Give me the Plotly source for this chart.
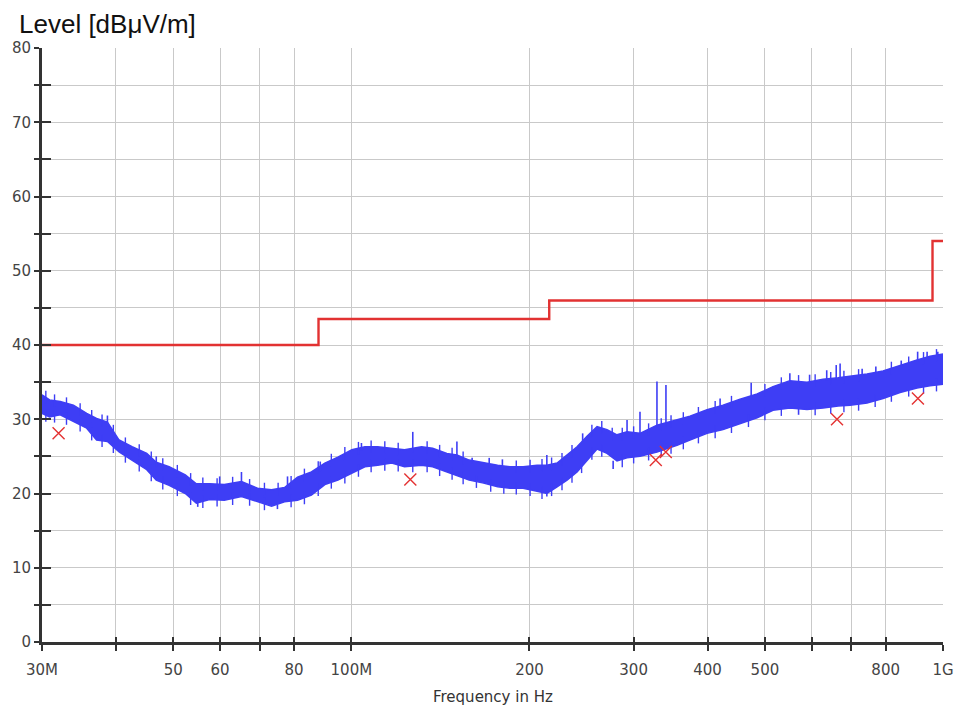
import math
import plotly.graph_objects as go

# ---------------- data ----------------
# measured spectrum, envelope of the noisy peak trace (MHz, dBµV/m)
band_mhz = [30.0, 30.9, 32.2, 33.9, 35.7, 37.1, 38.7, 40.5, 42.6, 45.1,
            46.8, 49.2, 52.4, 54.7, 57.6, 61.0, 65.2, 69.4, 73.3, 77.1,
            81.1, 85.6, 90.2, 94.9, 100.2, 105.4, 110.8, 117.0, 123.0, 131.4,
            137.2, 145.0, 150.8, 158.2, 167.3, 176.7, 185.4, 195.1, 206, 214,
            222.7, 231.5, 240.7, 250.2, 260.2, 270.5, 281.2, 292.4, 307.5, 328.5,
            340.2, 355.2, 373.5, 399.3, 424.8, 453.9, 485.1, 516, 551, 589,
            627, 665, 696.6, 744, 792, 846, 904, 951, 1000]
band_hi = [33.3, 32.6, 32.4, 31.9, 30.8, 30.1, 29.6, 27.2, 26.3, 25.4,
           24.2, 23.6, 22.5, 21.3, 21.3, 21.2, 21.6, 20.7, 20.5, 20.8,
           22.2, 22.9, 24.1, 24.9, 25.9, 26.3, 26.3, 26.1, 25.9, 26.3,
           26.1, 25.4, 25.2, 24.5, 24.1, 23.8, 23.6, 23.6, 23.8, 23.8,
           24.1, 25.2, 26.3, 27.7, 29.0, 28.6, 27.9, 28.3, 28.1, 29.2,
           29.5, 29.9, 30.4, 31.3, 31.9, 32.7, 33.4, 34.4, 35.2, 35.0,
           35.4, 35.6, 35.8, 36.1, 36.5, 37.3, 38.0, 38.5, 38.8]
band_lo = [30.8, 30.3, 30.6, 29.7, 28.8, 27.2, 27.0, 25.6, 24.5, 23.2,
           21.8, 21.1, 20.0, 18.7, 19.2, 19.1, 19.6, 18.9, 18.3, 18.9,
           19.1, 19.8, 21.2, 21.8, 22.7, 23.6, 23.8, 24.1, 23.6, 23.8,
           23.6, 22.9, 22.5, 21.8, 21.4, 20.9, 20.7, 20.7, 20.3, 20.0,
           20.9, 21.8, 22.9, 24.5, 26.0, 25.4, 24.4, 24.8, 25.0, 25.6,
           26.0, 26.5, 27.2, 28.1, 28.6, 29.4, 30.2, 31.2, 31.5, 31.3,
           31.5, 31.8, 31.9, 32.2, 32.8, 33.6, 34.2, 34.5, 34.7]

# narrow spikes above / dips below the band (MHz, from dB, to dB)
spike_mhz = [38.7, 46.8, 59.9, 65.2, 78.0, 88.6, 97.0, 104.0, 127.0, 150.8,
             160.0, 171.0, 180.0, 214.0, 246.0, 292.4, 307.5, 328.5, 340.2, 420,
             474, 551, 595, 636, 660, 670, 730, 770, 850, 906, 940, 980]
spike_from = [29.0, 23.5, 20.8, 21.0, 20.5, 23.0, 24.5, 25.8, 25.5, 24.8,
              24.0, 23.5, 23.2, 23.5, 27.0, 28.0, 27.8, 29.0, 29.0, 31.5,
              33.0, 35.0, 34.8, 35.2, 35.4, 35.4, 35.9, 36.2, 37.2, 37.8, 38.2, 38.5]
spike_to = [30.5, 25.0, 22.3, 22.9, 22.3, 24.3, 25.2, 26.8, 28.3, 27.0,
            24.8, 24.8, 24.6, 25.2, 28.1, 29.9, 31.0, 35.1, 34.6, 32.8,
            34.9, 36.2, 36.0, 36.6, 37.3, 37.5, 36.8, 37.1, 37.9, 39.1, 39.1, 39.1]
dip_mhz = [55.0, 75.0, 214.0, 277.0, 570.0]
dip_from = [19.0, 18.5, 20.3, 24.4, 31.6]
dip_to = [18.2, 17.9, 19.6, 23.3, 30.6]

# small noise hairs on the upper and lower edge of the band (MHz, dB at hair centre)
hair_up_mhz = [30.45, 31.5, 33.0, 34.8, 36.4, 37.9, 39.6, 41.5, 43.8, 45.9,
               48.0, 50.8, 53.5, 56.1, 59.3, 63.0, 67.3, 71.3, 75.2, 79.1,
               83.3, 87.9, 92.5, 97.5, 102.8, 108, 113.9, 120, 134.3, 141,
               148, 154.5, 190, 200.5, 210, 218, 227, 236, 255, 265,
               276, 287, 300, 318, 334, 347, 364, 386, 412, 439,
               500, 533, 570, 608, 646, 680, 720, 818, 875, 927, 975]
hair_up_db = [33.0, 32.5, 32.1, 31.3, 30.4, 29.8, 28.4, 26.7, 25.8, 24.8,
              23.9, 23.0, 21.9, 21.3, 21.2, 21.4, 21.1, 20.6, 20.6, 21.5,
              22.5, 23.5, 24.5, 25.4, 26.1, 26.3, 26.2, 26.0, 26.2, 25.7,
              25.3, 24.8, 23.6, 23.7, 23.8, 24.0, 24.6, 25.7, 28.4, 28.9,
              28.0, 28.0, 28.2, 28.6, 29.3, 29.7, 30.1, 30.8, 31.6, 32.3,
              33.9, 34.8, 35.1, 35.2, 35.5, 35.7, 35.9, 36.9, 37.6, 38.2, 38.6]
hair_dn_mhz = [30.45, 31.5, 33.0, 34.8, 36.4, 37.9, 39.6, 41.5, 43.8, 45.9,
               48.0, 50.8, 53.5, 56.1, 59.3, 63.0, 67.3, 71.3, 79.1, 83.3,
               87.9, 92.5, 97.5, 102.8, 108, 113.9, 120, 127, 134.3, 141,
               148, 154.5, 162.7, 172, 181, 190, 200.5, 210, 218, 227,
               236, 245, 255, 265, 287, 300, 318, 334, 347, 364,
               386, 412, 439, 469, 500, 533, 608, 646, 680, 720,
               768, 818, 875, 927, 975]
hair_dn_db = [30.5, 30.4, 30.1, 29.2, 28.0, 27.1, 26.3, 25.0, 23.8, 22.5,
              21.4, 20.5, 19.3, 18.9, 19.1, 19.3, 19.2, 18.6, 19.0, 19.4,
              20.5, 21.5, 22.2, 23.1, 23.7, 23.9, 23.8, 23.7, 23.7, 23.2,
              22.7, 22.1, 21.6, 21.1, 20.8, 20.7, 20.5, 20.1, 20.5, 21.3,
              22.3, 23.6, 25.4, 25.8, 24.4, 24.9, 25.3, 25.8, 26.2, 26.8,
              27.6, 28.3, 29.0, 29.8, 30.7, 31.3, 31.4, 31.6, 31.8, 32.0,
              32.5, 33.2, 33.9, 34.3, 34.6]

# limit line (FCC class B style steps)
limit_mhz = [30, 88, 216, 960, 1000]
limit_db = [40, 43.5, 46, 54, 54]

# final measurement points
meas_mhz = [32.0, 125.8, 327, 340, 662, 907]
meas_db = [28.1, 21.9, 24.5, 25.6, 30.0, 32.8]

# axis ticks
x_tick_mhz = [30, 40, 50, 60, 70, 80, 100, 200, 300, 400, 500, 600, 700, 800, 1000]
x_tick_text = ["30M", "", "50", "60", "", "80", "100M", "200", "300", "400", "500", "", "", "800", "1G"]
y_tick_vals = [0, 5, 10, 15, 20, 25, 30, 35, 40, 45, 50, 55, 60, 65, 70, 75, 80]
y_tick_text = ["0", "", "10", "", "20", "", "30", "", "40", "", "50", "", "60", "", "70", "", "80"]

# ---------------- styling ----------------
BLUE = "rgb(62,62,245)"
RED = "rgb(226,50,50)"
MARK = "rgb(228,50,50)"
GRID = "#c9c9c9"
AXIS = "#333333"
TICKFONT = dict(family="DejaVu Sans", size=15, color="#444444")

hz = lambda arr: [v * 1e6 for v in arr]

fig = go.Figure()

fig.add_trace(go.Scatter(x=hz(band_mhz), y=band_lo, mode="lines",
                         line=dict(color=BLUE, width=1.5), hoverinfo="skip", showlegend=False))
fig.add_trace(go.Scatter(x=hz(band_mhz), y=band_hi, mode="lines", fill="tonexty",
                         fillcolor=BLUE, line=dict(color=BLUE, width=1.5),
                         hoverinfo="skip", showlegend=False))

fig.add_trace(go.Scatter(x=hz(hair_up_mhz + hair_dn_mhz), y=hair_up_db + hair_dn_db,
                         mode="markers",
                         marker=dict(symbol="line-ns-open", size=9, color=BLUE,
                                     line=dict(color=BLUE, width=1.4)),
                         hoverinfo="skip", showlegend=False))

sx, sy = [], []
for f, a, b in zip(spike_mhz + dip_mhz, spike_from + dip_from, spike_to + dip_to):
    sx += [f * 1e6, f * 1e6, None]
    sy += [a, b, None]
fig.add_trace(go.Scatter(x=sx, y=sy, mode="lines", line=dict(color=BLUE, width=1.6),
                         hoverinfo="skip", showlegend=False))

fig.add_trace(go.Scatter(x=hz(limit_mhz), y=limit_db, mode="lines", line_shape="hv",
                         line=dict(color=RED, width=2.4), showlegend=False))

fig.add_trace(go.Scatter(x=hz(meas_mhz), y=meas_db, mode="markers",
                         marker=dict(symbol="x-thin-open", size=12, color=MARK,
                                     line=dict(color=MARK, width=1.4)),
                         showlegend=False))

# invisible trace so the overlay axes (inner half of the tick crosses) are drawn
fig.add_trace(go.Scatter(x=[30e6], y=[0], xaxis="x2", yaxis="y2", mode="markers",
                         marker=dict(opacity=0), hoverinfo="skip", showlegend=False))

xrange = [math.log10(30e6), math.log10(1e9)]

fig.update_layout(
    width=957, height=710,
    autosize=False,
    margin=dict(l=42, r=14, t=48, b=68, pad=0, autoexpand=False),
    paper_bgcolor="white", plot_bgcolor="white",
    showlegend=False,
    xaxis=dict(type="log", range=xrange, tickvals=hz(x_tick_mhz), ticktext=x_tick_text,
               showgrid=True, gridcolor=GRID, gridwidth=1, automargin=False,
               showline=True, linecolor=AXIS, linewidth=3,
               ticks="outside", ticklen=6, tickwidth=2, tickcolor=AXIS,
               tickfont=TICKFONT, ticklabelstandoff=6, zeroline=False),
    yaxis=dict(range=[0, 80], tickvals=y_tick_vals, ticktext=y_tick_text,
               showgrid=True, gridcolor=GRID, gridwidth=1, automargin=False,
               showline=True, linecolor=AXIS, linewidth=3,
               ticks="outside", ticklen=5, tickwidth=2, tickcolor=AXIS,
               tickfont=TICKFONT, zeroline=False),
    xaxis2=dict(type="log", range=xrange, overlaying="x", anchor="y2", side="bottom",
                tickvals=hz(x_tick_mhz), showticklabels=False, showgrid=False,
                showline=False, ticks="inside", ticklen=5, tickwidth=2, tickcolor=AXIS,
                zeroline=False, automargin=False),
    yaxis2=dict(range=[0, 80], overlaying="y", anchor="x2", side="left",
                tickvals=y_tick_vals, showticklabels=False, showgrid=False,
                showline=False, ticks="inside", ticklen=9, tickwidth=2, tickcolor=AXIS,
                zeroline=False, automargin=False),
    annotations=[
        dict(text="Level [dBμV/m]", xref="paper", yref="paper", x=-25 / 901, y=1 + 24 / 594,
             xanchor="left", yanchor="middle", showarrow=False,
             font=dict(family="Liberation Sans, Arial", size=26, color="#111111")),
        dict(text="Frequency in Hz", xref="paper", yref="paper", x=0.5, y=-55 / 594,
             xanchor="center", yanchor="middle", showarrow=False,
             font=dict(family="DejaVu Sans", size=15, color="#333333")),
    ],
)

fig.write_html("out.html", config={"displayModeBar": False})
